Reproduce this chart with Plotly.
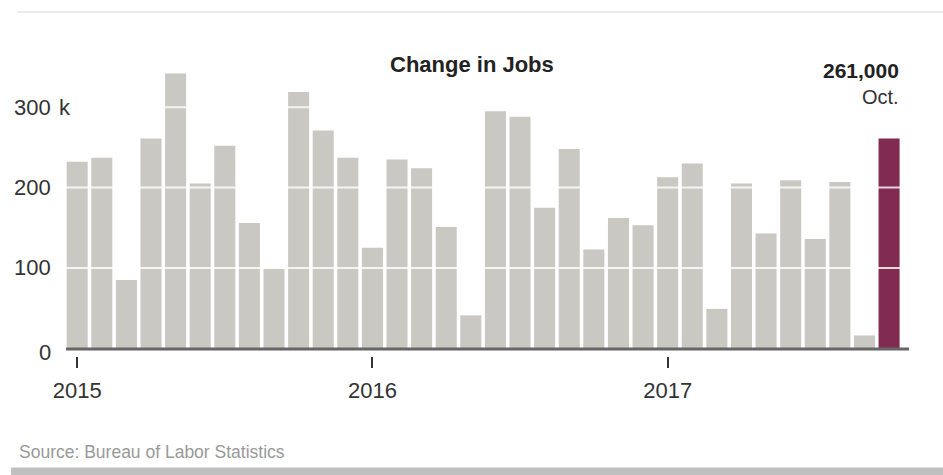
import plotly.graph_objects as go

# ---- data ----
months = [f"{y}-{m:02d}" for y in (2015, 2016, 2017) for m in range(1, 13)][:34]
jobs_k = [232, 237, 85, 261, 342, 205, 252, 156, 99, 319, 271, 237,
          125, 235, 224, 151, 41, 295, 288, 175, 248, 123, 162, 153,
          213, 230, 49, 205, 143, 209, 136, 207, 16, 261]
year_ticks = ["2015", "2016", "2017"]
y_ticks = [0, 100, 200, 300]
y_tick_text = ["0", "100", "200", "300"]
highlight_label = "261,000"
highlight_month = "Oct."

# ---- layout geometry ----
W, H = 943, 475
L, R, T, B = 66, 34, 59.1, 119
PW, PH = W - L - R, H - T - B


def px(xp):
    return (xp - L) / PW


def py(yp):
    return (H - B - yp) / PH


x_idx = list(range(len(months)))
colors = ["#c9c8c3"] * (len(months) - 1) + ["#812b51"]
tick_idx = [months.index(f"{y}-01") for y in year_ticks]

FONT = "Liberation Sans, Arial, sans-serif"

fig = go.Figure()
fig.add_trace(go.Bar(x=x_idx, y=jobs_k, marker=dict(color=colors, line=dict(width=0)),
                     hoverinfo="skip"))

shapes = []
# white gridlines over bars
for v in y_ticks[1:]:
    shapes.append(dict(type="line", xref="x", yref="y", x0=-0.5, x1=len(months) - 0.5,
                       y0=v, y1=v, line=dict(color="rgba(255,255,255,0.8)", width=2),
                       layer="above"))
# baseline
shapes.append(dict(type="line", xref="paper", yref="y", x0=0, x1=1, y0=-0.8, y1=-0.8,
                   line=dict(color="#666666", width=3), layer="above"))
# top rule
shapes.append(dict(type="line", xref="paper", yref="paper", x0=px(17), x1=px(943),
                   y0=py(12), y1=py(12), line=dict(color="#e3e3e3", width=1.5)))
# bottom band
shapes.append(dict(type="rect", xref="paper", yref="paper", x0=px(11), x1=px(943),
                   y0=py(475), y1=py(467.5), fillcolor="#c0c0c0", line=dict(width=0)))

ann = []
for v, t in zip(y_ticks, y_tick_text):
    ann.append(dict(xref="paper", yref="y", x=px(52.5), y=v, text=t, showarrow=False,
                    xanchor="right", yanchor="middle", yshift=-4 if v == 0 else 0,
                    font=dict(family=FONT, size=22, color="#333333")))
ann.append(dict(xref="paper", yref="y", x=px(57), y=300, text="k", showarrow=False,
                xanchor="left", yanchor="middle",
                font=dict(family=FONT, size=22, color="#333333")))
ann.append(dict(xref="paper", yref="paper", x=px(472), y=py(65), text="<b>Change in Jobs</b>",
                showarrow=False, xanchor="center", yanchor="middle",
                font=dict(family=FONT, size=22, color="#222222")))
ann.append(dict(xref="paper", yref="paper", x=px(901), y=py(71), text=f"<b>{highlight_label}</b>",
                showarrow=False, xanchor="right", yanchor="middle",
                font=dict(family=FONT, size=21, color="#222222")))
ann.append(dict(xref="paper", yref="paper", x=px(901), y=py(97), text=highlight_month,
                showarrow=False, xanchor="right", yanchor="middle",
                font=dict(family=FONT, size=20, color="#333333")))
ann.append(dict(xref="paper", yref="paper", x=px(17), y=py(452),
                text="Source: Bureau of Labor Statistics",
                showarrow=False, xanchor="left", yanchor="middle",
                font=dict(family=FONT, size=17.5, color="#999999")))

fig.update_layout(
    width=W, height=H,
    margin=dict(l=L, r=R, t=T, b=B, pad=0),
    paper_bgcolor="white", plot_bgcolor="white",
    showlegend=False, bargap=0.145,
    shapes=shapes, annotations=ann,
    xaxis=dict(range=[-0.455, 33.81], tickmode="array", tickvals=tick_idx, ticktext=year_ticks,
               ticks="outside", ticklen=11, tickwidth=2, tickcolor="#333333",
               showgrid=False, zeroline=False, showline=False,
               ticklabelstandoff=4,
               tickfont=dict(family=FONT, size=22, color="#333333")),
    yaxis=dict(range=[-9.6, 360], showticklabels=False, showgrid=False, zeroline=False,
               showline=False, ticks=""),
)

fig.write_html("out.html")
